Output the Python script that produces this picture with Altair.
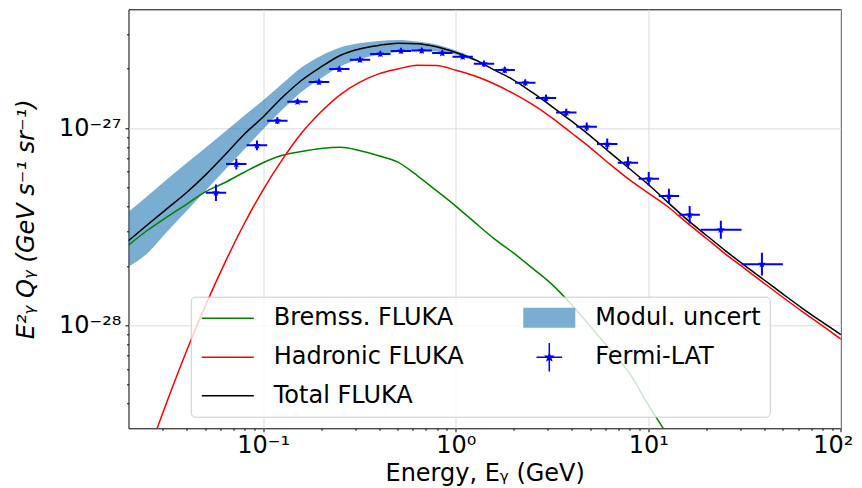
import altair as alt
import pandas as pd

# ---------------- data ----------------
energy = [0.02, 0.0251, 0.0316, 0.0398, 0.0501, 0.0631, 0.0794, 0.1, 0.126, 0.158,
          0.2, 0.251, 0.316, 0.398, 0.501, 0.631, 0.794, 1.0, 1.26, 1.58,
          2.0, 2.51, 3.16, 3.98, 5.01, 6.31, 7.94, 10.0, 12.6, 15.8,
          20.0, 25.1, 31.6, 39.8, 50.1, 63.1, 79.4, 100.0]

total_fluka = [2.68e-28, 3.23e-28, 3.89e-28, 4.68e-28, 5.77e-28, 7.28e-28, 9.25e-28, 1.138e-27,
               1.432e-27, 1.742e-27, 2.040e-27, 2.333e-27, 2.518e-27, 2.623e-27, 2.692e-27,
               2.679e-27, 2.584e-27, 2.416e-27, 2.218e-27, 1.972e-27, 1.75e-27, 1.51e-27,
               1.285e-27, 1.086e-27, 9.10e-28, 7.52e-28, 6.25e-28, 5.17e-28, 4.21e-28, 3.45e-28,
               2.86e-28, 2.39e-28, 2.01e-28, 1.70e-28, 1.437e-28, 1.218e-28, 1.042e-28, 8.95e-29]

# starts at energy[1]
hadronic_fluka = [2.21e-29, 4.07e-29, 7.29e-29, 1.253e-28, 2.06e-28, 3.24e-28, 4.86e-28, 6.93e-28,
                  9.40e-28, 1.209e-27, 1.474e-27, 1.703e-27, 1.881e-27, 1.992e-27, 2.084e-27,
                  2.075e-27, 1.965e-27, 1.834e-27, 1.676e-27, 1.493e-27, 1.313e-27, 1.127e-27,
                  9.46e-28, 7.93e-28, 6.56e-28, 5.49e-28, 4.68e-28, 4.00e-28, 3.32e-28, 2.76e-28,
                  2.30e-28, 1.94e-28, 1.636e-28, 1.382e-28, 1.172e-28, 1.001e-28, 8.49e-29]

# starts at energy[0]
bremss_fluka = [2.547e-28, 3.03e-28, 3.53e-28, 4.09e-28, 4.74e-28, 5.28e-28, 5.95e-28, 6.67e-28,
                7.27e-28, 7.60e-28, 7.87e-28, 7.98e-28, 7.69e-28, 7.23e-28, 6.71e-28, 5.74e-28,
                4.81e-28, 4.02e-28, 3.31e-28, 2.75e-28, 2.32e-28, 1.94e-28, 1.61e-28, 1.276e-28,
                9.85e-29, 7.55e-29, 5.76e-29, 3.94e-29, 2.77e-29]

# modulation uncertainty band, starts at energy[0]
band_low = [1.977e-28, 2.32e-28, 2.97e-28, 3.77e-28, 4.79e-28, 6.10e-28, 7.76e-28, 9.86e-28,
            1.241e-27, 1.523e-27, 1.789e-27, 2.052e-27, 2.240e-27, 2.347e-27, 2.431e-27,
            2.474e-27, 2.445e-27, 2.361e-27, 2.188e-27]
band_high = [3.76e-28, 4.52e-28, 5.48e-28, 6.60e-28, 7.93e-28, 9.55e-28, 1.151e-27, 1.384e-27,
             1.682e-27, 2.028e-27, 2.328e-27, 2.562e-27, 2.691e-27, 2.764e-27, 2.794e-27,
             2.748e-27, 2.654e-27, 2.474e-27, 2.253e-27]

fermi_e = [0.0569, 0.0726, 0.0929, 0.1185, 0.151, 0.195, 0.2487, 0.3184, 0.406, 0.520, 0.666,
           0.852, 1.087, 1.402, 1.796, 2.297, 2.943, 3.75, 4.786, 6.12, 7.84, 10.05, 12.8, 16.4,
           23.8, 38.9]
fermi_e_low = [0.0504, 0.0642, 0.0822, 0.1049, 0.1336, 0.1726, 0.2201, 0.2818, 0.3593, 0.4602,
               0.5894, 0.754, 0.962, 1.241, 1.589, 2.033, 2.604, 3.319, 4.235, 5.416, 6.938,
               8.894, 11.33, 14.51, 18.7, 30.5]
fermi_e_high = [0.0643, 0.0820, 0.1050, 0.1339, 0.1706, 0.2204, 0.2810, 0.3598, 0.4588, 0.5876,
                0.7526, 0.9628, 1.228, 1.584, 2.029, 2.596, 3.326, 4.238, 5.408, 6.916, 8.859,
                11.36, 14.46, 18.53, 30.5, 50.0]
fermi_q = [4.70e-28, 6.56e-28, 8.17e-28, 1.089e-27, 1.36e-27, 1.712e-27, 1.99e-27, 2.22e-27,
           2.375e-27, 2.46e-27, 2.47e-27, 2.40e-27, 2.30e-27, 2.12e-27, 1.97e-27, 1.698e-27,
           1.42e-27, 1.20e-27, 1.015e-27, 8.29e-28, 6.67e-28, 5.53e-28, 4.52e-28, 3.63e-28,
           3.05e-28, 2.04e-28]
# half-length of the vertical error bars, in decades
fermi_err_dex = [0.042, 0.027, 0.025, 0.017, 0.013, 0.013, 0.013, 0.013, 0.013, 0.013, 0.013,
                 0.013, 0.013, 0.015, 0.015, 0.016, 0.017, 0.018, 0.022, 0.028, 0.030, 0.034,
                 0.037, 0.044, 0.046, 0.058]

legend_order = ["Bremss. FLUKA", "Hadronic FLUKA", "Total FLUKA", "Modul. uncert", "Fermi-LAT"]
legend_stroke = ["#008000", "#ff0000", "#000000", "transparent", "#0000ff"]
legend_fill = ["transparent", "transparent", "transparent", "#79add2", "#0000ff"]

x_major = [0.1, 1, 10, 100]
x_minor = [0.03, 0.04, 0.05, 0.06, 0.07, 0.08, 0.09,
           0.2, 0.3, 0.4, 0.5, 0.6, 0.7, 0.8, 0.9,
           2, 3, 4, 5, 6, 7, 8, 9, 20, 30, 40, 50, 60, 70, 80, 90]
y_major = [1e-28, 1e-27]
y_minor = [4e-29, 5e-29, 6e-29, 7e-29, 8e-29, 9e-29,
           2e-28, 3e-28, 4e-28, 5e-28, 6e-28, 7e-28, 8e-28, 9e-28, 2e-27, 3e-27]

# ---------------- tables ----------------
df_total = pd.DataFrame({"E": energy, "Q": total_fluka})
df_had = pd.DataFrame({"E": energy[1:1 + len(hadronic_fluka)], "Q": hadronic_fluka})
df_brem = pd.DataFrame({"E": energy[:len(bremss_fluka)], "Q": bremss_fluka})
df_band = pd.DataFrame({"E": energy[:len(band_low)], "lo": band_low, "hi": band_high})
df_fermi = pd.DataFrame({"E": fermi_e, "Elo": fermi_e_low, "Ehi": fermi_e_high, "Q": fermi_q,
                         "d": fermi_err_dex})
df_fermi["Qlo"] = df_fermi["Q"] * 10 ** (-df_fermi["d"])
df_fermi["Qhi"] = df_fermi["Q"] * 10 ** (df_fermi["d"])
df_leg = pd.DataFrame({"series": legend_order})

FONT = "DejaVu Sans"
W, H = 712.4, 419

xs = alt.Scale(type="log", domain=[0.02, 100], nice=False)
ys = alt.Scale(type="log", domain=[3e-29, 4e-27], nice=False)

major_test = "abs(log(datum.value)/LN10 - round(log(datum.value)/LN10)) < 0.001"

x_axis = alt.Axis(
    values=x_major + x_minor,
    labelExpr="datum.value == 0.1 ? '10\u207b\u00b9' : datum.value == 1 ? '10\u2070' : "
              "datum.value == 10 ? '10\u00b9' : datum.value == 100 ? '10\u00b2' : ''",
    tickSize={"condition": {"test": major_test, "value": 3.5}, "value": 2},
    tickColor="black", tickWidth=1,
    grid=True, gridColor="#dcdcdc", gridWidth=1,
    gridOpacity={"condition": {"test": major_test, "value": 1}, "value": 0},
    domain=False,
    labelFont=FONT, labelFontSize=24, labelColor="black", labelPadding=2,
    labelOffset={"condition": {"test": "datum.value == 100", "value": -8}, "value": 0},
    labelOverlap=False, labelFlush=False,
    title="Energy, E\u1d67 (GeV)", titleFont=FONT, titleFontSize=24,
    titleFontWeight="normal", titleColor="black",
    titleX=W / 2, titleY=52.5, titleBaseline="alphabetic", titleAlign="center",
)
y_axis = alt.Axis(
    values=y_major + y_minor,
    labelExpr="datum.value == 1e-28 ? '10\u207b\u00b2\u2078' : datum.value == 1e-27 ? '10\u207b\u00b2\u2077' : ''",
    tickSize={"condition": {"test": major_test, "value": 3.5}, "value": 2},
    tickColor="black", tickWidth=1,
    grid=True, gridColor="#dcdcdc", gridWidth=1,
    gridOpacity={"condition": {"test": major_test, "value": 1}, "value": 0},
    domain=False,
    labelFont=FONT, labelFontSize=24, labelColor="black", labelPadding=4,
    labelOverlap=False, labelFlush=False,
    title="E\u00b2\u1d67 Q\u1d67 (GeV s\u207b\u00b9 sr\u207b\u00b9)", titleFont=FONT, titleFontSize=24,
    titleFontWeight="normal", titleFontStyle="italic", titleColor="black",
    titleX=-102, titleY=H / 2, titleBaseline="middle", titleAlign="center",
)


def X(field):
    return alt.X(field, scale=xs, axis=x_axis)


def Y(field):
    return alt.Y(field, scale=ys, axis=y_axis)


band = alt.Chart(df_band).mark_area(clip=True, color="#1f77b4", opacity=0.6,
                                    interpolate="monotone").encode(
    x=X("E:Q"), y=Y("lo:Q"), y2="hi:Q",
)


def line(df, color):
    return alt.Chart(df).mark_line(clip=True, color=color, strokeWidth=1.5,
                                   interpolate="monotone").encode(
        x=X("E:Q"), y=Y("Q:Q"),
    )


brem = line(df_brem, "#008000")
had = line(df_had, "#ff0000")
tot = line(df_total, "#000000")

xerr = alt.Chart(df_fermi).mark_rule(clip=True, color="#0000ff", strokeWidth=2).encode(
    x=X("Elo:Q"), x2="Ehi:Q", y=Y("Q:Q"),
)
yerr = alt.Chart(df_fermi).mark_rule(clip=True, color="#0000ff", strokeWidth=2).encode(
    x=X("E:Q"), y=Y("Qlo:Q"), y2="Qhi:Q",
)
STAR = ("M0,-1L0.235,-0.324L0.951,-0.309L0.38,0.124L0.588,0.809L0,0.4L-0.588,0.809"
        "L-0.38,0.124L-0.951,-0.309L-0.235,-0.324Z")
stars = alt.Chart(df_fermi).mark_point(clip=True, shape=STAR, filled=True, color="#0000ff",
                                       size=70, opacity=1).encode(
    x=X("E:Q"), y=Y("Q:Q"),
)

# legend symbols (unit = 20 px because symbolSize = 400)
LINE_SYM = "M-2.6,0L2.6,0"
BAND_SYM = "M-2.6,-1L2.6,-1L2.6,1L-2.6,1Z"
FERMI_SYM = ("M-1.28,0L1.28,0M0,-1.43L0,1.43"
             "M0,-0.34L0.08,-0.11L0.32,-0.1L0.13,0.04L0.2,0.27L0,0.14L-0.2,0.27"
             "L-0.13,0.04L-0.32,-0.1L-0.08,-0.11Z")
legend_shapes = [LINE_SYM, LINE_SYM, LINE_SYM, BAND_SYM, FERMI_SYM]


def make_leg():
    return alt.Legend(
        title=None, orient="none", legendX=62.3, legendY=287.4, columns=2,
        columnPadding=56.5, rowPadding=8.5, padding=9,
        symbolSize=400, symbolStrokeWidth=1.5, symbolOpacity=1, symbolOffset=16,
        labelOffset=34, labelFont=FONT, labelFontSize=24, labelColor="black",
        labelLimit=500, fillColor="rgba(255,255,255,0.8)", strokeColor="#cccccc",
        cornerRadius=4, zindex=1,
    )


legend_layer = alt.Chart(df_leg).mark_point(clip=True, filled=True, strokeWidth=1.5).encode(
    x=alt.value(-500), y=alt.value(-500),
    fill=alt.Fill("series:N", scale=alt.Scale(domain=legend_order, range=legend_fill),
                  legend=make_leg(), sort=legend_order),
    stroke=alt.Stroke("series:N", scale=alt.Scale(domain=legend_order, range=legend_stroke),
                      legend=make_leg(), sort=legend_order),
    shape=alt.Shape("series:N", scale=alt.Scale(domain=legend_order, range=legend_shapes),
                    legend=make_leg(), sort=legend_order),
)

chart = alt.layer(band, brem, had, tot, xerr, yerr, stars, legend_layer).properties(
    width=W, height=H,
    autosize=alt.AutoSizeParams(type="none"),
    padding={"left": 120.5, "top": 1.3, "right": 13, "bottom": 60},
    background="white",
).configure(font=FONT).configure_view(stroke="black", strokeWidth=1)

chart.save("out.html", embed_options={"renderer": "svg", "actions": False})
